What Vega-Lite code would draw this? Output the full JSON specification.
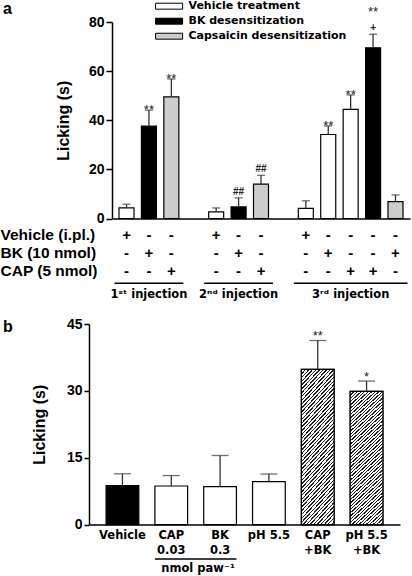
{
  "$schema": "https://vega.github.io/schema/vega-lite/v6.json",
  "background": "white",
  "padding": 0,
  "bounds": "flush",
  "spacing": 0,
  "resolve": {"scale": {"fill": "independent"}, "legend": {"fill": "independent"}},
  "config": {
    "view": {"stroke": null},
    "font": "Liberation Sans",
    "axis": {"domainColor": "black", "tickColor": "black", "labelColor": "black", "titleColor": "black", "grid": false, "domainWidth": 1.5, "tickWidth": 1.5, "labelFont": "Liberation Sans", "labelFontWeight": "bold", "titleFont": "Liberation Sans", "titleFontWeight": "bold"}
  },
  "vconcat": [
    {
      "width": 298,
      "height": 196.5,
      "title": {"text": "a", "anchor": "start", "frame": "group", "dx": -109, "dy": 39.2, "offset": 9.8, "baseline": "alphabetic", "fontSize": 16, "font": "Liberation Sans", "fontWeight": "bold", "color": "black"},
      "data": {"values": [
        {"slot": "1a", "treatment": "Vehicle treatment", "value": 4.3, "err": 5.8, "ann": "", "ann2": "", "ann3": ""},
        {"slot": "1b", "treatment": "BK desensitization", "value": 37.6, "err": 44.1, "ann": "**", "ann2": "", "ann3": ""},
        {"slot": "1c", "treatment": "Capsaicin desensitization", "value": 49.5, "err": 56.8, "ann": "**", "ann2": "", "ann3": ""},
        {"slot": "2a", "treatment": "Vehicle treatment", "value": 2.7, "err": 4.3, "ann": "", "ann2": "", "ann3": ""},
        {"slot": "2b", "treatment": "BK desensitization", "value": 4.7, "err": 8.4, "ann": "", "ann2": "##", "ann3": ""},
        {"slot": "2c", "treatment": "Capsaicin desensitization", "value": 14.0, "err": 17.6, "ann": "", "ann2": "##", "ann3": ""},
        {"slot": "3a", "treatment": "Vehicle treatment", "value": 4.1, "err": 7.2, "ann": "", "ann2": "", "ann3": ""},
        {"slot": "3b", "treatment": "Vehicle treatment", "value": 34.2, "err": 37.7, "ann": "**", "ann2": "", "ann3": ""},
        {"slot": "3c", "treatment": "Vehicle treatment", "value": 44.4, "err": 50.3, "ann": "**", "ann2": "", "ann3": ""},
        {"slot": "3d", "treatment": "BK desensitization", "value": 69.5, "err": 75.0, "ann": "", "ann2": "+", "ann3": "**"},
        {"slot": "3e", "treatment": "Capsaicin desensitization", "value": 6.9, "err": 9.6, "ann": "", "ann2": "", "ann3": ""}
      ]},
      "encoding": {
        "x": {"field": "slot", "type": "nominal", "scale": {"domain": ["1a","1b","1c","g1","2a","2b","2c","g2","3a","3b","3c","3d","3e"], "paddingInner": 0.33, "paddingOuter": 0.3125}, "axis": {"title": null, "labels": false, "ticks": false, "domain": true}}
      },
      "layer": [
        {
          "mark": {"type": "bar", "stroke": "black", "strokeWidth": 1.2},
          "encoding": {
            "y": {"field": "value", "type": "quantitative", "scale": {"domain": [0, 80], "nice": false}, "axis": {"values": [0, 20, 40, 60, 80], "title": "Licking (s)", "titleFontSize": 16, "labelFontSize": 14, "tickSize": 6, "labelPadding": 2, "titlePadding": 17}},
            "fill": {"field": "treatment", "type": "nominal", "scale": {"domain": ["Vehicle treatment", "BK desensitization", "Capsaicin desensitization"], "range": ["white", "black", "#cccccc"]},
              "legend": {"orient": "none", "legendX": 51.1, "legendY": -21.8, "title": null, "symbolType": "M-2.5,-0.55L2.5,-0.55L2.5,0.55L-2.5,0.55Z", "symbolSize": 117, "symbolStrokeColor": "black", "symbolStrokeWidth": 1, "labelFont": "DejaVu Sans", "labelFontWeight": "bold", "labelFontSize": 11, "labelColor": "black", "labelOffset": 13.4, "rowPadding": 4, "padding": 0}}
          }
        },
        {
          "mark": {"type": "rule", "color": "#333333", "strokeWidth": 1.3},
          "encoding": {"y": {"field": "value", "type": "quantitative"}, "y2": {"field": "err"}}
        },
        {
          "mark": {"type": "tick", "color": "#333333", "thickness": 1.3, "size": 8},
          "encoding": {"y": {"field": "err", "type": "quantitative"}}
        },
        {
          "mark": {"type": "text", "baseline": "alphabetic", "dy": 4, "fontSize": 13, "color": "#222222"},
          "encoding": {"y": {"field": "err", "type": "quantitative"}, "text": {"field": "ann"}}
        },
        {
          "mark": {"type": "text", "baseline": "alphabetic", "dy": -3, "fontSize": 10, "fontWeight": "bold", "color": "#222222"},
          "encoding": {"y": {"field": "err", "type": "quantitative"}, "text": {"field": "ann2"}}
        },
        {
          "mark": {"type": "text", "baseline": "alphabetic", "dy": -18, "fontSize": 13, "color": "#222222"},
          "encoding": {"y": {"field": "err", "type": "quantitative"}, "text": {"field": "ann3"}}
        }
      ]
    },
    {
      "width": 298,
      "height": 104.4,
      "layer": [
        {
          "data": {"values": [
            {"slot": "1a", "row": "Vehicle (i.pl.)", "sign": "+"},
            {"slot": "1b", "row": "Vehicle (i.pl.)", "sign": "-"},
            {"slot": "1c", "row": "Vehicle (i.pl.)", "sign": "-"},
            {"slot": "2a", "row": "Vehicle (i.pl.)", "sign": "+"},
            {"slot": "2b", "row": "Vehicle (i.pl.)", "sign": "-"},
            {"slot": "2c", "row": "Vehicle (i.pl.)", "sign": "-"},
            {"slot": "3a", "row": "Vehicle (i.pl.)", "sign": "+"},
            {"slot": "3b", "row": "Vehicle (i.pl.)", "sign": "-"},
            {"slot": "3c", "row": "Vehicle (i.pl.)", "sign": "-"},
            {"slot": "3d", "row": "Vehicle (i.pl.)", "sign": "-"},
            {"slot": "3e", "row": "Vehicle (i.pl.)", "sign": "-"},
            {"slot": "1a", "row": "BK (10 nmol)", "sign": "-"},
            {"slot": "1b", "row": "BK (10 nmol)", "sign": "+"},
            {"slot": "1c", "row": "BK (10 nmol)", "sign": "-"},
            {"slot": "2a", "row": "BK (10 nmol)", "sign": "-"},
            {"slot": "2b", "row": "BK (10 nmol)", "sign": "+"},
            {"slot": "2c", "row": "BK (10 nmol)", "sign": "-"},
            {"slot": "3a", "row": "BK (10 nmol)", "sign": "-"},
            {"slot": "3b", "row": "BK (10 nmol)", "sign": "+"},
            {"slot": "3c", "row": "BK (10 nmol)", "sign": "-"},
            {"slot": "3d", "row": "BK (10 nmol)", "sign": "-"},
            {"slot": "3e", "row": "BK (10 nmol)", "sign": "+"},
            {"slot": "1a", "row": "CAP (5 nmol)", "sign": "-"},
            {"slot": "1b", "row": "CAP (5 nmol)", "sign": "-"},
            {"slot": "1c", "row": "CAP (5 nmol)", "sign": "+"},
            {"slot": "2a", "row": "CAP (5 nmol)", "sign": "-"},
            {"slot": "2b", "row": "CAP (5 nmol)", "sign": "-"},
            {"slot": "2c", "row": "CAP (5 nmol)", "sign": "+"},
            {"slot": "3a", "row": "CAP (5 nmol)", "sign": "-"},
            {"slot": "3b", "row": "CAP (5 nmol)", "sign": "-"},
            {"slot": "3c", "row": "CAP (5 nmol)", "sign": "+"},
            {"slot": "3d", "row": "CAP (5 nmol)", "sign": "+"},
            {"slot": "3e", "row": "CAP (5 nmol)", "sign": "-"}
          ]},
          "mark": {"type": "text", "fontSize": 15, "fontWeight": "bold", "font": "Liberation Sans", "color": "black"},
          "encoding": {
            "x": {"field": "slot", "type": "nominal", "scale": {"domain": ["1a","1b","1c","g1","2a","2b","2c","g2","3a","3b","3c","3d","3e"], "paddingInner": 0.33, "paddingOuter": 0.3125}, "axis": null},
            "y": {"field": "row", "type": "nominal", "scale": {"type": "band", "domain": ["Vehicle (i.pl.)", "BK (10 nmol)", "CAP (5 nmol)", " "], "paddingInner": 0, "paddingOuter": 0.845, "align": 0.21},
              "axis": {"title": null, "domain": false, "ticks": false, "tickSize": 0, "labelPadding": 112, "labelAlign": "left", "labelBaseline": "middle", "labelFontSize": 15.5, "labelFont": "Liberation Sans", "labelFontWeight": "bold"}},
            "text": {"field": "sign"}
          }
        },
        {
          "data": {"values": [
            {"first": "1a", "last": "1c", "mid": "1b", "label": "1ˢᵗ injection"},
            {"first": "2a", "last": "2c", "mid": "2b", "label": "2ⁿᵈ injection"},
            {"first": "3a", "last": "3e", "mid": "3c", "label": "3ʳᵈ injection"}
          ]},
          "layer": [
            {
              "mark": {"type": "rule", "strokeWidth": 1.5, "color": "black"},
              "encoding": {
                "x": {"field": "first", "type": "nominal", "bandPosition": -0.3},
                "x2": {"field": "last", "bandPosition": 1.3},
                "y": {"datum": "CAP (5 nmol)", "type": "nominal", "bandPosition": 1.15}
              }
            },
            {
              "mark": {"type": "text", "font": "DejaVu Sans", "fontWeight": "bold", "fontSize": 11.5, "dy": 5, "color": "black"},
              "encoding": {
                "x": {"field": "mid", "type": "nominal"},
                "y": {"datum": " ", "type": "nominal"},
                "text": {"field": "label"}
              }
            }
          ]
        }
      ]
    },
    {
      "width": 288,
      "height": 200.6,
      "title": {"text": "b", "anchor": "start", "frame": "group", "dx": -109, "dy": 25.5, "offset": -5.3, "baseline": "alphabetic", "fontSize": 16, "font": "Liberation Sans", "fontWeight": "bold", "color": "black"},
      "data": {"values": [
        {"cond": "Vehicle", "kind": "vehicle", "value": 8.75, "err": 11.4, "ann": ""},
        {"cond": "CAP|0.03", "kind": "single", "value": 8.66, "err": 11.0, "ann": ""},
        {"cond": "BK|0.3", "kind": "single", "value": 8.5, "err": 15.5, "ann": ""},
        {"cond": "pH 5.5", "kind": "single", "value": 9.65, "err": 11.35, "ann": ""},
        {"cond": "CAP|+BK", "kind": "combined", "value": 34.8, "err": 41.3, "ann": "**"},
        {"cond": "pH 5.5|+BK", "kind": "combined", "value": 29.9, "err": 32.2, "ann": "*"}
      ]},
      "encoding": {
        "x": {"field": "cond", "type": "nominal", "scale": {"domain": ["Vehicle", "CAP|0.03", "BK|0.3", "pH 5.5", "CAP|+BK", "pH 5.5|+BK"], "range": [-23, 288], "paddingInner": 0.33, "paddingOuter": 0.35},
          "axis": {"title": null, "ticks": false, "labelExpr": "split(datum.label, '|')", "labelFont": "DejaVu Sans", "labelFontSize": 11.5, "labelPadding": 5, "labelLineHeight": 15, "labelAngle": 0, "labelOverlap": false, "labelLimit": 0}}
      },
      "layer": [
        {
          "mark": {"type": "bar", "stroke": "black", "strokeWidth": 1.2},
          "encoding": {
            "y": {"field": "value", "type": "quantitative", "scale": {"domain": [0, 45], "nice": false}, "axis": {"values": [0, 15, 30, 45], "offset": 23, "title": "Licking (s)", "titleFontSize": 16, "labelFontSize": 14, "tickSize": 5, "labelPadding": 2, "titlePadding": 19}},
            "fill": {"field": "kind", "type": "nominal", "scale": {"domain": ["vehicle", "single", "combined"], "range": ["black", "white", "#a8a8a8"]}, "legend": null}
          }
        },
        {
          "transform": [{"filter": "datum.kind == 'combined'"}],
          "mark": {"type": "bar", "stroke": "black", "strokeWidth": 1.2,
            "fill": {"gradient": "linear", "x1": 0, "y1": 0, "x2": 0.2649, "y2": 1.1669, "stops": [
              {"offset": 0, "color": "#222"}, {"offset": 0.008, "color": "#222"}, {"offset": 0.008, "color": "#fff"}, {"offset": 0.02, "color": "#fff"},
              {"offset": 0.02, "color": "#222"}, {"offset": 0.028, "color": "#222"}, {"offset": 0.028, "color": "#fff"}, {"offset": 0.04, "color": "#fff"},
              {"offset": 0.04, "color": "#222"}, {"offset": 0.048, "color": "#222"}, {"offset": 0.048, "color": "#fff"}, {"offset": 0.06, "color": "#fff"},
              {"offset": 0.06, "color": "#222"}, {"offset": 0.068, "color": "#222"}, {"offset": 0.068, "color": "#fff"}, {"offset": 0.08, "color": "#fff"},
              {"offset": 0.08, "color": "#222"}, {"offset": 0.088, "color": "#222"}, {"offset": 0.088, "color": "#fff"}, {"offset": 0.1, "color": "#fff"},
              {"offset": 0.1, "color": "#222"}, {"offset": 0.108, "color": "#222"}, {"offset": 0.108, "color": "#fff"}, {"offset": 0.12, "color": "#fff"},
              {"offset": 0.12, "color": "#222"}, {"offset": 0.128, "color": "#222"}, {"offset": 0.128, "color": "#fff"}, {"offset": 0.14, "color": "#fff"},
              {"offset": 0.14, "color": "#222"}, {"offset": 0.148, "color": "#222"}, {"offset": 0.148, "color": "#fff"}, {"offset": 0.16, "color": "#fff"},
              {"offset": 0.16, "color": "#222"}, {"offset": 0.168, "color": "#222"}, {"offset": 0.168, "color": "#fff"}, {"offset": 0.18, "color": "#fff"},
              {"offset": 0.18, "color": "#222"}, {"offset": 0.188, "color": "#222"}, {"offset": 0.188, "color": "#fff"}, {"offset": 0.2, "color": "#fff"},
              {"offset": 0.2, "color": "#222"}, {"offset": 0.208, "color": "#222"}, {"offset": 0.208, "color": "#fff"}, {"offset": 0.22, "color": "#fff"},
              {"offset": 0.22, "color": "#222"}, {"offset": 0.228, "color": "#222"}, {"offset": 0.228, "color": "#fff"}, {"offset": 0.24, "color": "#fff"},
              {"offset": 0.24, "color": "#222"}, {"offset": 0.248, "color": "#222"}, {"offset": 0.248, "color": "#fff"}, {"offset": 0.26, "color": "#fff"},
              {"offset": 0.26, "color": "#222"}, {"offset": 0.268, "color": "#222"}, {"offset": 0.268, "color": "#fff"}, {"offset": 0.28, "color": "#fff"},
              {"offset": 0.28, "color": "#222"}, {"offset": 0.288, "color": "#222"}, {"offset": 0.288, "color": "#fff"}, {"offset": 0.3, "color": "#fff"},
              {"offset": 0.3, "color": "#222"}, {"offset": 0.308, "color": "#222"}, {"offset": 0.308, "color": "#fff"}, {"offset": 0.32, "color": "#fff"},
              {"offset": 0.32, "color": "#222"}, {"offset": 0.328, "color": "#222"}, {"offset": 0.328, "color": "#fff"}, {"offset": 0.34, "color": "#fff"},
              {"offset": 0.34, "color": "#222"}, {"offset": 0.348, "color": "#222"}, {"offset": 0.348, "color": "#fff"}, {"offset": 0.36, "color": "#fff"},
              {"offset": 0.36, "color": "#222"}, {"offset": 0.368, "color": "#222"}, {"offset": 0.368, "color": "#fff"}, {"offset": 0.38, "color": "#fff"},
              {"offset": 0.38, "color": "#222"}, {"offset": 0.388, "color": "#222"}, {"offset": 0.388, "color": "#fff"}, {"offset": 0.4, "color": "#fff"},
              {"offset": 0.4, "color": "#222"}, {"offset": 0.408, "color": "#222"}, {"offset": 0.408, "color": "#fff"}, {"offset": 0.42, "color": "#fff"},
              {"offset": 0.42, "color": "#222"}, {"offset": 0.428, "color": "#222"}, {"offset": 0.428, "color": "#fff"}, {"offset": 0.44, "color": "#fff"},
              {"offset": 0.44, "color": "#222"}, {"offset": 0.448, "color": "#222"}, {"offset": 0.448, "color": "#fff"}, {"offset": 0.46, "color": "#fff"},
              {"offset": 0.46, "color": "#222"}, {"offset": 0.468, "color": "#222"}, {"offset": 0.468, "color": "#fff"}, {"offset": 0.48, "color": "#fff"},
              {"offset": 0.48, "color": "#222"}, {"offset": 0.488, "color": "#222"}, {"offset": 0.488, "color": "#fff"}, {"offset": 0.5, "color": "#fff"},
              {"offset": 0.5, "color": "#222"}, {"offset": 0.508, "color": "#222"}, {"offset": 0.508, "color": "#fff"}, {"offset": 0.52, "color": "#fff"},
              {"offset": 0.52, "color": "#222"}, {"offset": 0.528, "color": "#222"}, {"offset": 0.528, "color": "#fff"}, {"offset": 0.54, "color": "#fff"},
              {"offset": 0.54, "color": "#222"}, {"offset": 0.548, "color": "#222"}, {"offset": 0.548, "color": "#fff"}, {"offset": 0.56, "color": "#fff"},
              {"offset": 0.56, "color": "#222"}, {"offset": 0.568, "color": "#222"}, {"offset": 0.568, "color": "#fff"}, {"offset": 0.58, "color": "#fff"},
              {"offset": 0.58, "color": "#222"}, {"offset": 0.588, "color": "#222"}, {"offset": 0.588, "color": "#fff"}, {"offset": 0.6, "color": "#fff"},
              {"offset": 0.6, "color": "#222"}, {"offset": 0.608, "color": "#222"}, {"offset": 0.608, "color": "#fff"}, {"offset": 0.62, "color": "#fff"},
              {"offset": 0.62, "color": "#222"}, {"offset": 0.628, "color": "#222"}, {"offset": 0.628, "color": "#fff"}, {"offset": 0.64, "color": "#fff"},
              {"offset": 0.64, "color": "#222"}, {"offset": 0.648, "color": "#222"}, {"offset": 0.648, "color": "#fff"}, {"offset": 0.66, "color": "#fff"},
              {"offset": 0.66, "color": "#222"}, {"offset": 0.668, "color": "#222"}, {"offset": 0.668, "color": "#fff"}, {"offset": 0.68, "color": "#fff"},
              {"offset": 0.68, "color": "#222"}, {"offset": 0.688, "color": "#222"}, {"offset": 0.688, "color": "#fff"}, {"offset": 0.7, "color": "#fff"},
              {"offset": 0.7, "color": "#222"}, {"offset": 0.708, "color": "#222"}, {"offset": 0.708, "color": "#fff"}, {"offset": 0.72, "color": "#fff"},
              {"offset": 0.72, "color": "#222"}, {"offset": 0.728, "color": "#222"}, {"offset": 0.728, "color": "#fff"}, {"offset": 0.74, "color": "#fff"},
              {"offset": 0.74, "color": "#222"}, {"offset": 0.748, "color": "#222"}, {"offset": 0.748, "color": "#fff"}, {"offset": 0.76, "color": "#fff"},
              {"offset": 0.76, "color": "#222"}, {"offset": 0.768, "color": "#222"}, {"offset": 0.768, "color": "#fff"}, {"offset": 0.78, "color": "#fff"},
              {"offset": 0.78, "color": "#222"}, {"offset": 0.788, "color": "#222"}, {"offset": 0.788, "color": "#fff"}, {"offset": 0.8, "color": "#fff"},
              {"offset": 0.8, "color": "#222"}, {"offset": 0.808, "color": "#222"}, {"offset": 0.808, "color": "#fff"}, {"offset": 0.82, "color": "#fff"},
              {"offset": 0.82, "color": "#222"}, {"offset": 0.828, "color": "#222"}, {"offset": 0.828, "color": "#fff"}, {"offset": 0.84, "color": "#fff"},
              {"offset": 0.84, "color": "#222"}, {"offset": 0.848, "color": "#222"}, {"offset": 0.848, "color": "#fff"}, {"offset": 0.86, "color": "#fff"},
              {"offset": 0.86, "color": "#222"}, {"offset": 0.868, "color": "#222"}, {"offset": 0.868, "color": "#fff"}, {"offset": 0.88, "color": "#fff"},
              {"offset": 0.88, "color": "#222"}, {"offset": 0.888, "color": "#222"}, {"offset": 0.888, "color": "#fff"}, {"offset": 0.9, "color": "#fff"},
              {"offset": 0.9, "color": "#222"}, {"offset": 0.908, "color": "#222"}, {"offset": 0.908, "color": "#fff"}, {"offset": 0.92, "color": "#fff"},
              {"offset": 0.92, "color": "#222"}, {"offset": 0.928, "color": "#222"}, {"offset": 0.928, "color": "#fff"}, {"offset": 0.94, "color": "#fff"},
              {"offset": 0.94, "color": "#222"}, {"offset": 0.948, "color": "#222"}, {"offset": 0.948, "color": "#fff"}, {"offset": 0.96, "color": "#fff"},
              {"offset": 0.96, "color": "#222"}, {"offset": 0.968, "color": "#222"}, {"offset": 0.968, "color": "#fff"}, {"offset": 0.98, "color": "#fff"},
              {"offset": 0.98, "color": "#222"}, {"offset": 0.988, "color": "#222"}, {"offset": 0.988, "color": "#fff"}, {"offset": 1, "color": "#fff"}
            ]}},
          "encoding": {"y": {"field": "value", "type": "quantitative"}}
        },
        {
          "mark": {"type": "rule", "color": "#333333", "strokeWidth": 1.3},
          "encoding": {"y": {"field": "value", "type": "quantitative"}, "y2": {"field": "err"}}
        },
        {
          "mark": {"type": "tick", "color": "#333333", "thickness": 1.3, "size": 17},
          "encoding": {"y": {"field": "err", "type": "quantitative"}}
        },
        {
          "mark": {"type": "text", "baseline": "alphabetic", "dy": 0, "fontSize": 13, "color": "#222222"},
          "encoding": {"y": {"field": "err", "type": "quantitative"}, "text": {"field": "ann"}}
        }
      ]
    },
    {
      "width": 288,
      "height": 50,
      "data": {"values": [{"unit": "nmol paw⁻¹", "first": "CAP|0.03", "last": "BK|0.3"}]},
      "layer": [
        {
          "mark": {"type": "rule", "strokeWidth": 1.5, "color": "black"},
          "encoding": {
            "x": {"field": "first", "type": "nominal", "bandPosition": 0, "scale": {"domain": ["Vehicle", "CAP|0.03", "BK|0.3", "pH 5.5", "CAP|+BK", "pH 5.5|+BK"], "range": [-23, 288], "paddingInner": 0.33, "paddingOuter": 0.35}, "axis": null},
            "x2": {"field": "last", "bandPosition": 1},
            "y": {"field": "unit", "type": "nominal", "bandPosition": 0.68, "scale": {"type": "band", "paddingInner": 0, "paddingOuter": 0}, "axis": null}
          }
        },
        {
          "mark": {"type": "text", "font": "DejaVu Sans", "fontWeight": "bold", "fontSize": 11.5, "color": "black"},
          "encoding": {
            "x": {"field": "last", "type": "nominal", "bandPosition": -0.17},
            "y": {"field": "unit", "type": "nominal", "bandPosition": 0.88},
            "text": {"field": "unit"}
          }
        }
      ]
    }
  ]
}
